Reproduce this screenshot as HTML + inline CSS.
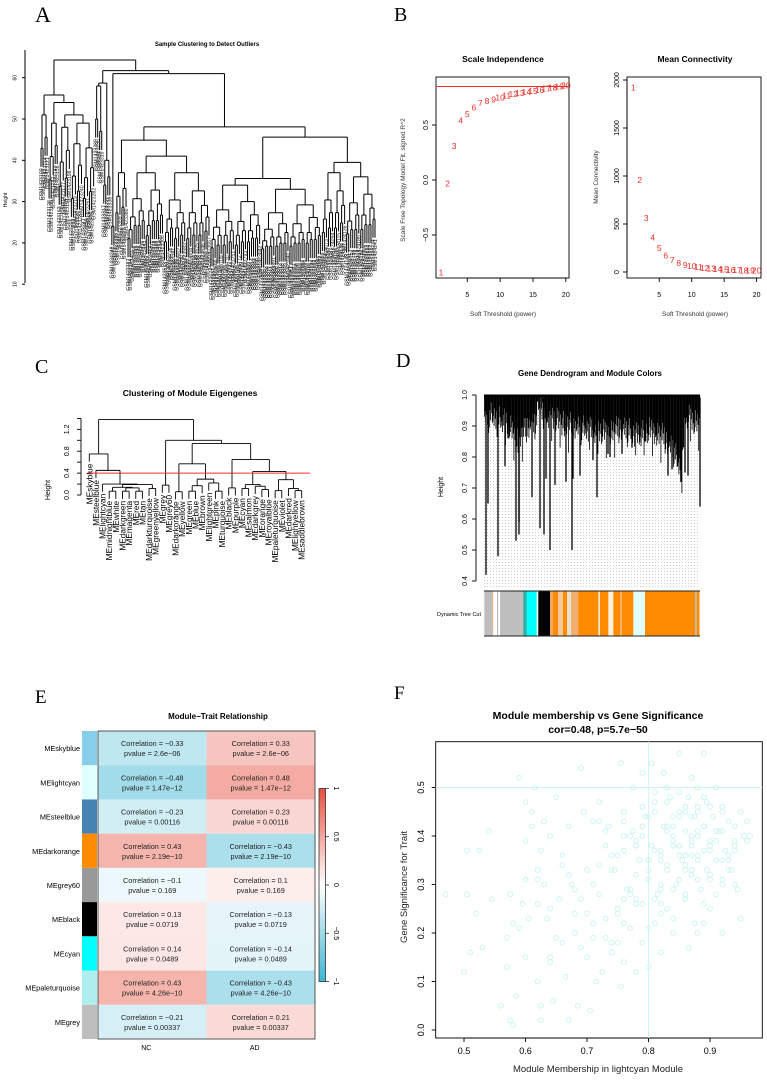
<!DOCTYPE html>
<html><head><meta charset="utf-8"><style>
html,body{margin:0;padding:0;background:#fff;}
svg{display:block;font-family:"Liberation Sans",sans-serif;}
</style></head><body>
<svg id="fig" width="767" height="1082" viewBox="0 0 767 1082" xmlns="http://www.w3.org/2000/svg">
<defs>
<pattern id="dots" width="3" height="3" patternUnits="userSpaceOnUse"><rect x="1" y="1" width="0.8" height="0.8" fill="#9a9a9a"/></pattern>
</defs>
<text x="35" y="22" font-family="Liberation Serif,serif" font-size="22">A</text>
<text x="394" y="21" font-family="Liberation Serif,serif" font-size="20">B</text>
<text x="35" y="373" font-family="Liberation Serif,serif" font-size="20">C</text>
<text x="396" y="367" font-family="Liberation Serif,serif" font-size="20">D</text>
<text x="35" y="703" font-family="Liberation Serif,serif" font-size="19">E</text>
<text x="394" y="699" font-family="Liberation Serif,serif" font-size="19">F</text>
</svg>
<script>
// ===== Panel B data =====
const sftPowers = [1,2,3,4,5,6,7,8,9,10,11,12,13,14,15,16,17,18,19,20];
const sftR2 = [-0.84,-0.03,0.31,0.54,0.60,0.66,0.70,0.72,0.73,0.75,0.77,0.78,0.79,0.80,0.81,0.82,0.83,0.84,0.85,0.86];
const meanK = [1920,960,560,360,250,170,125,95,75,60,50,42,35,30,26,23,20,18,16,14];
const r2Cut = 0.85;
const bXTicks = [5,10,15,20];
const bY1Ticks = [-0.5,0,0.5];
const bY1Labels = ["\u22120.5","0.0","0.5"];
const bY2Ticks = [0,500,1000,1500,2000];
// ===== Panel C data =====
const meTree = [1.38,
 [0.75,"MEskyblue",[0.45,"MEsteelblue",[0.2,"MElightcyan",[0.19,[0.14,[0.07,"MEmidnightblue","MEwhite"],[0.13,[0.07,"MEdarkgreen","MEmagenta"],[0.07,"MEred","MEtan"]]],[0.12,"MEdarkturquoise","MEgreenyellow"]]]]],
 [1.0,[0.18,"MEgrey","MEgrey60"],[0.94,
   [0.57,[0.06,"MEdarkorange","MEyellow"],[0.29,[0.17,[0.07,"MEgreen","MEblue"],"MEbrown"],[0.22,"MElightgreen",[0.07,"MEpink","MEturquoise"]]]],
   [0.65,[0.13,"MEblack","MEpurple"],[0.43,[0.19,[0.12,"MEcyan","MEsalmon"],[0.16,"MEdarkgrey",[0.1,"MEorange","MEroyalblue"]]],[0.28,[0.08,"MEpaleturquoise","MEviolet"],[0.12,"MEdarkred",[0.08,"MElightyellow","MEsaddlebrown"]]]]]]]];
const cCut = 0.4;
const cYTicks = [0,0.2,0.4,0.6,0.8,1.0,1.2,1.4];
// ===== Panel D data =====
const dEnvX = [484,500,510,517,527,537,538,550,563,590,607,623,637,650,663,673,682,685,700];
const dEnvH = [0.95,0.94,0.91,0.86,0.91,0.93,0.99,0.94,0.92,0.90,0.89,0.91,0.88,0.90,0.88,0.84,0.76,0.95,0.91];
const dDropX = [486,488,498,505,508,516,519,519,532,540,544,546,550,555,566,572,573,580,593,597,608,610,622,632,645,656,668,672,681,685,688,700];
const dDropH = [0.42,0.65,0.48,0.77,0.86,0.53,0.55,0.59,0.67,0.57,0.55,0.73,0.50,0.71,0.72,0.50,0.73,0.74,0.79,0.67,0.81,0.80,0.81,0.83,0.85,0.87,0.74,0.76,0.72,0.75,0.74,0.64];
const dSegX0 = [484.3,492,497,500,523.3,526.7,536.7,538.3,550,553,558,563,567,571,578.3,598.3,600,608.3,613.3,620,622,633.3,645,650,685,695,696.7];
const dSegX1 = [492,493,498,523.3,526.7,536.7,538.3,550,553,558,563,567,571,578.3,598.3,600,608.3,613.3,620,622,633.3,645,650,685,695,696.7,699.3];
const dSegC = ["#bebebe","#e9b98a","#bebebe","#bebebe","#30b0a0","#00ffff","#ffffff","#000000","#f0a860","#ff8c00","#f5c89a","#ff8c00","#e8e0d0","#f2b070","#ff8c00","#f5e8d0","#ff8c00","#fff0e0","#ff8c00","#f5b070","#ff8c00","#e0ffff","#ff8c00","#ff8c00","#ff8c00","#bebebe","#ff8c00"];
const dYTicks = [0.4,0.5,0.6,0.7,0.8,0.9,1.0];
// ===== Panel E data =====
const modNames = ["MEskyblue","MElightcyan","MEsteelblue","MEdarkorange","MEgrey60","MEblack","MEcyan","MEpaleturquoise","MEgrey"];
const modColors = ["#87ceeb","#e0ffff","#4682b4","#ff8c00","#999999","#000000","#00ffff","#afeeee","#bebebe"];
const corNC = [-0.33,-0.48,-0.23,0.43,-0.1,0.13,0.14,0.43,-0.21];
const corAD = [0.33,0.48,0.23,-0.43,0.1,-0.13,-0.14,-0.43,0.21];
const pvals = ["2.6e\u221206","1.47e\u221212","0.00116","2.19e\u221210","0.169","0.0719","0.0489","4.26e\u221210","0.00337"];
const traits = ["NC","AD"];
const legTicks = [1,0.5,0,-0.5,-1];
const legLabels = ["1","0.5","0","\u22120.5","\u22121"];
// ===== Panel F data =====
const mmVals = [0.47,0.50,0.505,0.505,0.51,0.52,0.525,0.53,0.54,0.545,0.56,0.57,0.57,0.575,0.575,0.58,0.58,0.585,0.59,0.59,0.595,0.60,0.60,0.60,0.60,0.605,0.61,0.61,0.615,0.62,0.62,0.625,0.625,0.625,0.63,0.63,0.635,0.64,0.64,0.645,0.65,0.65,0.655,0.66,0.665,0.67,0.67,0.675,0.68,0.685,0.69,0.69,0.695,0.70,0.70,0.705,0.71,0.71,0.715,0.72,0.72,0.725,0.73,0.73,0.735,0.74,0.745,0.75,0.755,0.755,0.76,0.76,0.765,0.77,0.775,0.775,0.78,0.78,0.785,0.79,0.79,0.795,0.80,0.80,0.805,0.805,0.81,0.81,0.815,0.82,0.82,0.825,0.825,0.83,0.83,0.835,0.84,0.84,0.845,0.85,0.85,0.855,0.86,0.86,0.865,0.865,0.87,0.87,0.875,0.875,0.88,0.88,0.885,0.89,0.89,0.895,0.895,0.90,0.90,0.905,0.91,0.91,0.915,0.92,0.92,0.925,0.93,0.935,0.94,0.945,0.95,0.955,0.96,0.965,0.85,0.86,0.87,0.88,0.89,0.83,0.84,0.82,0.80,0.78,0.76,0.74,0.72,0.90,0.91,0.93,0.94,0.86,0.88,0.84,0.82,0.79,0.77,0.75,0.73,0.71,0.69,0.67,0.87,0.89,0.92,0.81,0.83,0.85,0.68,0.66,0.64,0.62,0.76,0.74,
 0.76,0.77,0.78,0.79,0.80,0.81,0.82,0.83,0.84,0.85,0.86,0.87,0.88,0.89,0.90,0.91,0.92,0.93,0.94,0.95,
 0.77,0.78,0.79,0.80,0.81,0.82,0.83,0.84,0.85,0.86,0.87,0.88,0.89,0.90,0.91,0.92,0.93,0.94,0.86,0.88,
 0.75,0.76,0.78,0.80,0.82,0.84,0.86,0.88,0.90,0.92,0.71,0.73,0.75,0.77,0.79,0.81,0.83,0.85,0.87,0.89,
 0.62,0.64,0.66,0.68,0.70,0.72,0.74,0.76,0.78,0.80,0.82,0.84,0.86,0.88,0.90,0.92,0.94,0.96,0.87,0.91];
const gsVals = [0.28,0.12,0.37,0.28,0.16,0.24,0.37,0.17,0.41,0.27,0.05,0.13,0.19,0.28,0.02,0.01,0.22,0.07,0.52,0.21,0.26,0.31,0.47,0.15,0.39,0.23,0.45,0.42,0.50,0.10,0.26,0.37,0.05,0.02,0.43,0.30,0.23,0.15,0.40,0.06,0.48,0.19,0.27,0.34,0.11,0.42,0.02,0.30,0.20,0.05,0.54,0.27,0.45,0.33,0.15,0.04,0.22,0.43,0.10,0.47,0.28,0.12,0.19,0.38,0.42,0.16,0.33,0.24,0.55,0.09,0.37,0.14,0.29,0.21,0.50,0.41,0.12,0.26,0.35,0.53,0.18,0.44,0.31,0.13,0.38,0.55,0.22,0.47,0.28,0.36,0.16,0.53,0.42,0.25,0.33,0.48,0.39,0.20,0.30,0.45,0.57,0.35,0.27,0.41,0.17,0.48,0.32,0.38,0.44,0.22,0.50,0.36,0.29,0.42,0.57,0.33,0.47,0.38,0.25,0.44,0.35,0.50,0.41,0.30,0.46,0.37,0.43,0.33,0.39,0.29,0.45,0.40,0.39,0.40,0.38,0.36,0.40,0.41,0.37,0.41,0.44,0.30,0.35,0.32,0.40,0.36,0.34,0.31,0.28,0.36,0.42,0.33,0.46,0.29,0.24,0.26,0.21,0.18,0.23,0.19,0.17,0.32,0.36,0.26,0.20,0.27,0.42,0.36,0.24,0.18,0.14,0.31,0.27,
 0.33,0.45,0.40,0.27,0.42,0.33,0.45,0.37,0.34,0.42,0.31,0.46,0.33,0.45,0.48,0.39,0.41,0.45,0.35,0.37,
 0.23,0.29,0.38,0.46,0.35,0.49,0.29,0.47,0.40,0.44,0.28,0.39,0.31,0.42,0.46,0.39,0.31,0.33,0.30,0.45,
 0.20,0.25,0.22,0.26,0.21,0.26,0.23,0.27,0.35,0.32,0.35,0.30,0.41,0.36,0.28,0.40,0.37,0.50,0.49,0.52,
 0.22,0.33,0.25,0.36,0.29,0.24,0.43,0.18,0.43,0.39,0.44,0.35,0.38,0.34,0.40,0.37,0.41,0.38,0.43,0.44];
const fXTicks = [0.5,0.6,0.7,0.8,0.9];
const fYTicks = [0.0,0.1,0.2,0.3,0.4,0.5];
const fRefX = 0.8, fRefY = 0.5;

// ===== helpers =====
const NS = 'http://www.w3.org/2000/svg';
const svg = document.getElementById('fig');
function mk(tag, attrs, parent, name, inter) {
  const el = document.createElementNS(NS, tag);
  for (const k in attrs) el.setAttribute(k, attrs[k]);
  
  
  (parent || svg).appendChild(el);
  return el;
}
function grp(name) { return mk('g', {}, svg, name, false); }
function line(g, x1, y1, x2, y2, stroke, w, name) {
  return mk('line', {x1:x1, y1:y1, x2:x2, y2:y2, stroke:stroke, 'stroke-width':w}, g, name, false);
}
function txt(g, x, y, s, size, name, opt) {
  opt = opt || {};
  const a = {x:x, y:y, 'font-size':size, 'text-anchor':opt.anchor || 'middle', fill:opt.fill || '#000'};
  if (opt.bold) a['font-weight'] = 'bold';
  if (opt.rot !== undefined) a.transform = 'rotate(' + opt.rot + ' ' + x + ' ' + y + ')';
  if (opt.dy) a.dy = opt.dy;
  const t = mk('text', a, g, name, false);
  t.textContent = s;
  return t;
}
function countLeaves(n) { return Array.isArray(n) ? countLeaves(n[1]) + countLeaves(n[2]) : 1; }
function drawTree(tree, xAt, yAt, hang, g, lw, leafLabel) {
  let idx = 0;
  function place(n) {
    if (!Array.isArray(n)) { const x = xAt(idx++); return {x:x, n:n}; }
    const a = place(n[1]), b = place(n[2]);
    return {x:(a.x + b.x) / 2, n:n, a:a, b:b};
  }
  const root = place(tree);
  function draw(p) {
    if (!p.a) return;
    const yh = yAt(p.n[0]);
    [p.a, p.b].forEach(c => {
      const isLeaf = !c.a;
      const cy = isLeaf ? yAt(p.n[0] - hang) : yAt(c.n[0]);
      line(g, c.x, cy, c.x, yh, '#000', lw, isLeaf ? 'leaf-branch' : 'branch');
      if (isLeaf) leafLabel(c.x, cy, c.n);
      else draw(c);
    });
    line(g, p.a.x, yh, p.b.x, yh, '#000', lw, 'merge-bar');
  }
  draw(root);
}

// ===== Panel A: sample clustering =====
(function(){
  const g = grp('sample-clustering-dendrogram');
  txt(g, 207, 46, 'Sample Clustering to Detect Outliers', 6, 'panel-a-title', {bold:true});
  const yA = h => 77.7 + (60 - h) * 4.13;
  line(g, 25, 50, 25, 283, '#000', 1, 'y-axis-line');
  [10,20,30,40,50,60].forEach(v => {
    line(g, 22, yA(v), 25, yA(v), '#000', 1, 'y-tick');
    txt(g, 15, yA(v), String(v), 5, 'y-tick-label', {rot:-90, dy:'1.5'});
  });
  txt(g, 7, 200, 'Height', 5, 'y-axis-title', {rot:-90});
  let lc = 0;
  function sub(n, top, bot) {
    if (n === 1) return 'GSM' + (1423100 + (lc++) * 7);
    const a = Math.ceil(n * 0.45);
    return [top, sub(a, top - (top - bot) * 0.3, bot), sub(n - a, top - (top - bot) * 0.2, bot)];
  }
  const L = [55.8, sub(4,51,24), [54, sub(5,49,22), [51, sub(6,48,20), [49, sub(6,44,18), sub(6,43,19)]]]];
  const Ra = [58.7, [58, sub(2,50,30), sub(2,47,25)], sub(4,40,20)];
  const Rb1 = [44.9, sub(6,37,18), [41, sub(18,37,16), sub(23,37,15)]];
  const Rb2 = [45.6, [35.6, sub(25,34,14), sub(30,33,14)], [39.5, sub(12,37,15), sub(15,36,15)]];
  const Rb = [61, sub(2,24,20), [48.1, Rb1, Rb2]];
  const tree = [64.3, L, [61.7, Ra, Rb]];
  const n = countLeaves(tree);
  const xAt = i => 41 + i * (375 - 41) / (n - 1);
  drawTree(tree, xAt, yA, 4.5, g, 1, (x, y, name) => {
    txt(g, x, y + 1.5, name, 5.2, 'sample-label', {rot:-90, anchor:'end', dy:'1.8', fill:'#222'});
  });
})();

// ===== Panel B: scale independence & mean connectivity =====
(function(){
  const g = grp('scale-independence-plot');
  const xB = p => 441 + (p - 1) * 6.57;
  const yB = v => 180 - v * 110;
  txt(g, 503, 62, 'Scale Independence', 8.5, 'panel-b1-title', {bold:true});
  mk('rect', {x:436, y:77, width:133, height:201, fill:'none', stroke:'#000', 'stroke-width':0.9}, g, 'plot-frame', false);
  line(g, xB(5), 278, xB(20), 278, '#000', 0.9, 'x-axis-line');
  bXTicks.forEach(v => { line(g, xB(v), 278, xB(v), 282, '#000', 0.9, 'x-tick'); txt(g, xB(v), 297, String(v), 7, 'x-tick-label'); });
  line(g, 436, yB(-0.5), 436, yB(0.5), '#000', 0.9, 'y-axis-line');
  bY1Ticks.forEach((v, i) => { line(g, 432, yB(v), 436, yB(v), '#000', 0.9, 'y-tick'); txt(g, 428, yB(v), bY1Labels[i], 7, 'y-tick-label', {rot:-90}); });
  txt(g, 503, 316, 'Soft Threshold (power)', 6.5, 'x-axis-title', {fill:'#333'});
  txt(g, 405, 180, 'Scale Free Topology Model Fit, signed R^2', 6.5, 'y-axis-title', {rot:-90, fill:'#333'});
  line(g, 436, yB(r2Cut), 569, yB(r2Cut), '#e8302a', 1, 'r2-cutoff-line');
  sftPowers.forEach((p, i) => txt(g, xB(p), yB(sftR2[i]) + 3, String(p), 8.5, 'power-point', {fill:'#e8302a'}));

  const g2 = grp('mean-connectivity-plot');
  const xC = p => 633.3 + (p - 1) * 6.49;
  const yC = v => 272 - v * 0.096;
  txt(g2, 695, 62, 'Mean Connectivity', 8.5, 'panel-b2-title', {bold:true});
  mk('rect', {x:627, y:77, width:134, height:201, fill:'none', stroke:'#000', 'stroke-width':0.9}, g2, 'plot-frame', false);
  line(g2, xC(5), 278, xC(20), 278, '#000', 0.9, 'x-axis-line');
  bXTicks.forEach(v => { line(g2, xC(v), 278, xC(v), 282, '#000', 0.9, 'x-tick'); txt(g2, xC(v), 297, String(v), 7, 'x-tick-label'); });
  line(g2, 627, yC(0), 627, yC(2000), '#000', 0.9, 'y-axis-line');
  bY2Ticks.forEach(v => { line(g2, 623, yC(v), 627, yC(v), '#000', 0.9, 'y-tick'); txt(g2, 619, yC(v), String(v), 7, 'y-tick-label', {rot:-90}); });
  txt(g2, 695, 316, 'Soft Threshold (power)', 6.5, 'x-axis-title', {fill:'#333'});
  txt(g2, 598, 177, 'Mean Connectivity', 6.5, 'y-axis-title', {rot:-90, fill:'#333'});
  sftPowers.forEach((p, i) => txt(g2, xC(p), yC(meanK[i]) + 3, String(p), 8.5, 'connectivity-point', {fill:'#e8302a'}));
})();

// ===== Panel C: eigengene clustering =====
(function(){
  const g = grp('eigengene-dendrogram');
  txt(g, 190, 396, 'Clustering of Module Eigengenes', 8.5, 'panel-c-title', {bold:true});
  const yH = h => 495 - h * 54.7;
  line(g, 81, yH(0), 81, yH(1.4), '#000', 0.9, 'y-axis-line');
  cYTicks.forEach(v => {
    line(g, 77, yH(v), 81, yH(v), '#000', 0.9, 'y-tick');
    if (Math.round(v * 10) % 4 === 0) txt(g, 69, yH(v), v.toFixed(1), 7, 'y-tick-label', {rot:-90});
  });
  txt(g, 50, 490, 'Height', 7, 'y-axis-title', {rot:-90});
  const n = countLeaves(meTree);
  const xAt = i => 89.3 + i * (301.7 - 89.3) / (n - 1);
  drawTree(meTree, xAt, yH, 0.14, g, 0.9, (x, y, name) => {
    txt(g, x, y + 2, name, 8.3, 'module-label', {rot:-90, anchor:'end', dy:'3'});
  });
  line(g, 87, yH(cCut), 310, yH(cCut), '#e8302a', 1, 'merge-cut-line');
})();

// ===== Panel D: gene dendrogram =====
(function(){
  const g = grp('gene-dendrogram');
  txt(g, 590, 376, 'Gene Dendrogram and Module Colors', 8, 'panel-d-title', {bold:true});
  const yD = h => 395 + (1 - h) * 310;
  line(g, 476, yD(0.4), 476, yD(1.0), '#000', 0.9, 'y-axis-line');
  dYTicks.forEach(v => { line(g, 472, yD(v), 476, yD(v), '#000', 0.9, 'y-tick'); txt(g, 467, yD(v), v.toFixed(1), 7, 'y-tick-label', {rot:-90}); });
  txt(g, 443, 487, 'Height', 7, 'y-axis-title', {rot:-90});
  mk('rect', {x:484, y:400, width:216, height:188, fill:'url(#dots)', opacity:0.8}, g, 'leaf-dot-grid', false);
  function env(x) {
    for (let i = 0; i < dEnvX.length - 1; i++) if (x >= dEnvX[i] && x <= dEnvX[i+1]) {
      const t = (x - dEnvX[i]) / (dEnvX[i+1] - dEnvX[i] || 1); return dEnvH[i] + t * (dEnvH[i+1] - dEnvH[i]);
    }
    return 0.95;
  }
  for (let x = 484.5, k = 0; x < 700; x += 0.6, k++) {
    const hb = env(x) + 0.03 - ((k * 37) % 11) / 11 * 0.09 - ((k * 13) % 7 === 0 ? 0.05 : 0);
    line(g, x, yD(0.995), x, yD(hb), '#000', 0.8, 'branch-texture');
  }
  dDropX.forEach((x, i) => line(g, x, yD(0.99), x, yD(dDropH[i]), '#000', 1.3, 'deep-branch'));
  line(g, 484, 396, 700, 396, '#000', 3, 'top-merge-bar');
  const cb = mk('g', {}, g, 'module-color-bar', false);
  dSegX0.forEach((x0, i) => mk('rect', {x:x0, y:591, width:dSegX1[i] - x0 + 0.2, height:45, fill:dSegC[i]}, cb, 'module-color-segment', false));
  line(cb, 484, 591, 700, 591, '#222', 1, 'color-bar-top');
  line(cb, 484, 636, 700, 636, '#222', 1, 'color-bar-bottom');
  txt(g, 481, 616, 'Dynamic Tree Cut', 5.5, 'color-bar-label', {anchor:'end'});
})();

// ===== Panel E: module-trait heatmap =====
(function(){
  const g = grp('module-trait-heatmap');
  txt(g, 218, 719, 'Module\u2212Trait Relationship', 8, 'panel-e-title', {bold:true});
  const x0 = 98, x1 = 315, y0 = 731, y1 = 1039;
  const rh = (y1 - y0) / modNames.length, cw = (x1 - x0) / traits.length;
  const lo = [61,181,210], hi = [232,80,63];
  function col(v) {
    const e = v < 0 ? lo : hi, t = Math.abs(v);
    return 'rgb(' + e.map(c => Math.round(255 - t * (255 - c))).join(',') + ')';
  }
  modNames.forEach((nm, i) => {
    const y = y0 + i * rh;
    mk('rect', {x:82, y:y, width:15, height:rh, fill:modColors[i]}, g, 'module-color-strip', false);
    txt(g, 80, y + rh / 2 + 3, nm, 7.3, 'module-row-label', {anchor:'end'});
    [corNC[i], corAD[i]].forEach((c, j) => {
      const cx = x0 + j * cw;
      mk('rect', {x:cx, y:y, width:cw, height:rh, fill:col(c)}, g, 'heatmap-cell', false);
      const cs = (c < 0 ? '\u2212' : '') + Math.abs(c);
      txt(g, cx + cw / 2, y + rh / 2 - 2, 'Correlation = ' + cs, 7.3, 'cell-correlation', {fill:'#222'});
      txt(g, cx + cw / 2, y + rh / 2 + 8, 'pvalue = ' + pvals[i], 7.3, 'cell-pvalue', {fill:'#222'});
    });
  });
  mk('rect', {x:x0, y:y0, width:x1 - x0, height:y1 - y0, fill:'none', stroke:'#555', 'stroke-width':1}, g, 'heatmap-border', false);
  traits.forEach((t, j) => txt(g, x0 + (j + 0.5) * cw - 6, 1050, t, 7, 'trait-label'));
  const lg = mk('g', {}, g, 'color-legend', false);
  const ly = v => 885 - v * 96.5;
  for (let k = 0; k < 40; k++) {
    const v = 1 - k * 0.05;
    mk('rect', {x:319, y:ly(v), width:6.5, height:96.5 * 0.05 + 0.3, fill:col(v - 0.025)}, lg, 'legend-gradient-step', false);
  }
  mk('rect', {x:319, y:ly(1), width:6.5, height:193, fill:'none', stroke:'#333', 'stroke-width':0.8}, lg, 'legend-border', false);
  legTicks.forEach((v, i) => { line(lg, 325.5, ly(v), 329, ly(v), '#333', 0.8, 'legend-tick'); txt(lg, 334, ly(v), legLabels[i], 7, 'legend-tick-label', {rot:90}); });
})();

// ===== Panel F: MM vs GS scatter =====
(function(){
  const g = grp('mm-vs-gs-scatter');
  txt(g, 598, 719, 'Module membership vs Gene Significance', 10.5, 'panel-f-title', {bold:true});
  txt(g, 598, 733, 'cor=0.48, p=5.7e\u221250', 10.5, 'panel-f-subtitle', {bold:true});
  const xF = v => 464 + (v - 0.5) * 615;
  const yF = v => 1030 - v * 485;
  mk('rect', {x:435.7, y:741.7, width:326.6, height:296.3, fill:'none', stroke:'#000', 'stroke-width':0.9}, g, 'plot-frame', false);
  fXTicks.forEach(v => { line(g, xF(v), 1038, xF(v), 1042, '#000', 0.9, 'x-tick'); txt(g, xF(v), 1054, v.toFixed(1), 9, 'x-tick-label'); });
  line(g, xF(0.5), 1038, xF(0.9), 1038, '#000', 0.9, 'x-axis-line');
  fYTicks.forEach(v => { line(g, 431.7, yF(v), 435.7, yF(v), '#000', 0.9, 'y-tick'); txt(g, 424, yF(v), v.toFixed(1), 9, 'y-tick-label', {rot:-90}); });
  txt(g, 598, 1072, 'Module Membership in lightcyan Module', 9.5, 'x-axis-title', {fill:'#222'});
  txt(g, 407, 887, 'Gene Significance for Trait', 9.5, 'y-axis-title', {rot:-90, fill:'#222'});
  line(g, xF(fRefX), 741.7, xF(fRefX), 1038, '#cff5f5', 1, 'mm-reference-line');
  line(g, 435.7, yF(fRefY), 762.3, yF(fRefY), '#cff5f5', 1, 'gs-reference-line');
  const np = Math.min(mmVals.length, gsVals.length);
  for (let i = 0; i < np; i++) {
    mk('circle', {cx:xF(mmVals[i]), cy:yF(gsVals[i]), r:2.4, fill:'none', stroke:'#c8f3f3', 'stroke-width':0.9}, g, 'gene-point', false);
  }
})();
</script>
</body></html>
